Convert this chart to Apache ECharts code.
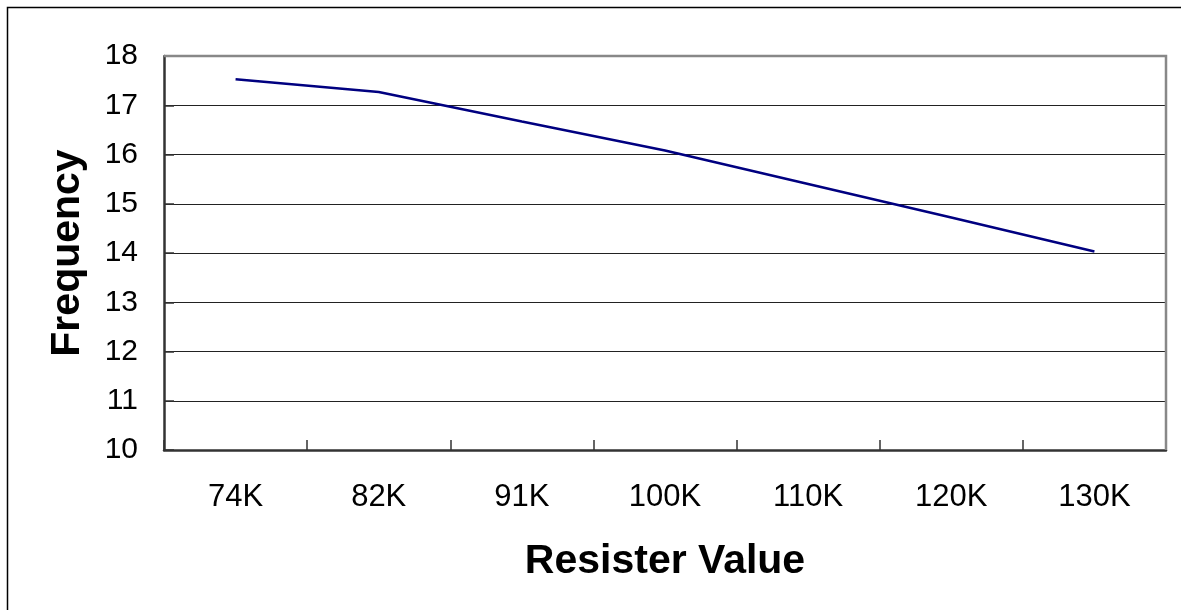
<!DOCTYPE html>
<html>
<head>
<meta charset="utf-8">
<script src="https://cdn.jsdelivr.net/npm/echarts@6/dist/echarts.min.js"></script>
<style>html,body{margin:0;padding:0;background:#fff}#c{width:1181px;height:610px}</style>
</head>
<body>
<div id="c"></div>
<script>
const categories = ['74K','82K','91K','100K','110K','120K','130K'];
const frequency = [17.53, 17.27, 16.67, 16.08, 15.40, 14.72, 14.03];
const yTicks = [10, 11, 12, 13, 14, 15, 16, 17, 18];

const chart = echarts.init(document.getElementById('c'), null, {renderer:'canvas'});
const font = '"Liberation Sans", Arial, sans-serif';
chart.setOption({
  animation: false,
  backgroundColor: '#ffffff',
  graphic: [
    {type:'rect', shape:{x:7.5, y:7.5, width:1300, height:700}, style:{fill:'none', stroke:'#000', lineWidth:1.5}, silent:true},
    {type:'polyline', shape:{points:[[164,56],[1166,56],[1166,450]]}, style:{fill:'none', stroke:'#888', lineWidth:2.5}, z:10, silent:true}
  ],
  grid: {left:164, right:15, top:56, bottom:160, containLabel:false},
  xAxis: {
    type:'category', data:categories, boundaryGap:true,
    name:'Resister Value', nameLocation:'middle', nameGap:91,
    nameTextStyle:{fontFamily:font, fontWeight:'bold', fontSize:41, color:'#000'},
    axisLine:{show:true, lineStyle:{color:'#333', width:2.5}},
    axisTick:{show:true, inside:true, length:10, alignWithLabel:false, lineStyle:{color:'#333', width:1.5}},
    axisLabel:{fontFamily:font, fontSize:31, color:'#000', margin:32},
    splitLine:{show:false}
  },
  yAxis: {
    type:'value', min:yTicks[0], max:yTicks[yTicks.length-1], interval:1,
    name:'Frequency', nameLocation:'middle', nameGap:76, nameRotate:90,
    nameTextStyle:{fontFamily:font, fontWeight:'bold', fontSize:41, color:'#000'},
    axisLine:{show:true, lineStyle:{color:'#333', width:2.5}},
    axisTick:{show:true, inside:true, length:10, lineStyle:{color:'#333', width:1.5}},
    axisLabel:{fontFamily:font, fontSize:30, color:'#000', margin:26},
    splitLine:{show:true, lineStyle:{color:'#222', width:1.2}}
  },
  series: [{
    type:'line', data:frequency, showSymbol:false, symbol:'none',
    lineStyle:{color:'#000080', width:2.5}, z:5
  }]
});
</script>
</body>
</html>
